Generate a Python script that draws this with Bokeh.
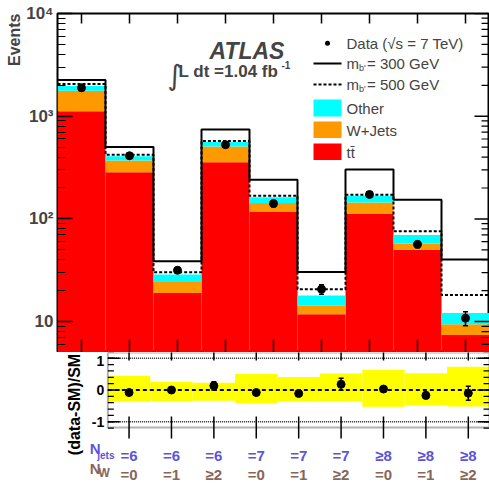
import numpy as np
from bokeh.plotting import figure
from bokeh.models import (Range1d, FixedTicker, Label, Title, BoxAnnotation, Whisker, TeeHead,
                          ColumnDataSource, Arrow)
from bokeh.core.properties import value
from bokeh.layouts import column
from bokeh.embed import file_html
from bokeh.resources import INLINE

# ---------------- data ----------------
njets_labels = ["=6", "=6", "=6", "=7", "=7", "=7", "\u22658", "\u22658", "\u22658"]
nw_labels = ["=0", "=1", "\u22652", "=0", "=1", "\u22652", "=0", "=1", "\u22652"]

ttbar = [1120, 284, 19.0, 356, 117, 11.8, 113, 50.0, 7.4]
wjets = [650, 86, 5.3, 152, 25.5, 2.5, 31.5, 7.3, 2.0]
other = [198, 38, 4.4, 52, 19.5, 3.6, 23.5, 12.4, 2.7]
total_mb300 = [2254, 500, 38.7, 741, 241, 30.4, 302, 153.5, 40.3]
total_mb500 = [2060, 421, 30.2, 573, 168, 20.7, 172, 75.7, 18.1]
data = [1890, 412, 31.6, 528, 141, 20.7, 173, 56.5, 10.8]
data_err = [40, 18, 2.0, 20, 10, 2.2, 11, 4.0, 1.7]

ratio = [-0.08, 0.0, 0.13, -0.08, -0.11, 0.18, 0.03, -0.17, -0.10]
ratio_err = [0.04, 0.05, 0.13, 0.04, 0.08, 0.19, 0.07, 0.10, 0.22]
band_up = [0.45, 0.26, 0.23, 0.50, 0.41, 0.52, 0.64, 0.53, 0.73]
band_dn = [-0.37, -0.35, -0.34, -0.42, -0.36, -0.36, -0.53, -0.48, -0.52]

ratio_ticks = [1, 0, -1]
ratio_tick_labels = ["1", "0", "-1"]

# ---------------- derived ----------------
nb = len(ttbar)
edges = list(range(nb + 1))
centers = [i + 0.5 for i in range(nb)]
s1 = list(ttbar)
s2 = [a + b for a, b in zip(s1, wjets)]
s3 = [a + b for a, b in zip(s2, other)]

FONT = "Liberation Sans"
RED, ORANGE, CYAN, YELLOW = "#ff0000", "#ff9900", "#00ffff", "#ffff00"
BLUE, BROWN = "#5a55d9", "#87665a"

W = 489
FL = 57                      # frame left of the main panel (page px)
BIN_PX = (W - FL) / nb       # pixels per bin
P2TOP = 352                  # page y where the ratio canvas starts
P2H = 131
Y1LO, Y1HI = 5, 1e4
Y2LO, Y2HI = -1.18, 1.18
R_PX = 75 / (Y2HI - Y2LO)    # ratio panel px per unit

def xv(px):                  # page x -> data x
    return (px - FL) / BIN_PX

def yv(py):                  # page y -> ratio-panel data y
    return Y2HI - (py - P2TOP) / R_PX

major_log = [10, 100, 1000, 10000]
minor_log = [m * 10 ** e for e in range(0, 4) for m in range(2, 10) if m * 10 ** e >= Y1LO]

def ticks_x(p, yedge, size):
    p.scatter(x=centers, y=[yedge] * nb, marker="dash", angle=np.pi / 2, size=size,
              line_color="black", line_width=1.5)

def ticks_y(p, xedge, vals, size, lw=1.5):
    p.scatter(x=[xedge] * len(vals), y=vals, marker="dash", size=size,
              line_color="black", line_width=lw)

# ---------------- main panel ----------------
xr = Range1d(0, nb)
p1 = figure(width=W, height=P2TOP, x_range=xr, y_range=Range1d(Y1LO, Y1HI), y_axis_type="log",
            x_axis_location=None, output_backend="svg", toolbar_location=None,
            min_border_left=FL, min_border_right=0, min_border_top=13, min_border_bottom=0)
p1.grid.visible = False
p1.outline_line_color = "black"
p1.outline_line_width = 2

p1.vbar(x=centers, width=1, bottom=1, top=s1, fill_color=RED, line_color=None)
p1.vbar(x=centers, width=1, bottom=s1, top=s2, fill_color=ORANGE, line_color=None)
p1.vbar(x=centers, width=1, bottom=s2, top=s3, fill_color=CYAN, line_color=None)

p1.step(x=edges, y=total_mb500 + [total_mb500[-1]], mode="after",
        line_color="black", line_width=2, line_dash="3 2")
p1.step(x=edges, y=total_mb300 + [total_mb300[-1]], mode="after",
        line_color="black", line_width=2)

src1 = ColumnDataSource(dict(x=centers, y=data,
                             lo=[d - e for d, e in zip(data, data_err)],
                             hi=[d + e for d, e in zip(data, data_err)]))
p1.scatter(x="x", y="y", source=src1, size=8, color="black")
p1.add_layout(Whisker(base="x", lower="lo", upper="hi", source=src1, line_width=1.5,
                      level="annotation",
                      upper_head=TeeHead(size=5, line_width=1.5),
                      lower_head=TeeHead(size=5, line_width=1.5)))

ticks_x(p1, Y1LO, 26)
ticks_x(p1, Y1HI, 20)
ticks_y(p1, nb, major_log, 30)
ticks_y(p1, nb, minor_log, 16, 1.2)

yax = p1.yaxis[0]
yax.ticker = FixedTicker(ticks=major_log, minor_ticks=minor_log)
yax.major_label_overrides = {10: "10", 100: "10\u00b2", 1000: "10\u00b3", 10000: "10\u2074"}
yax.major_label_text_font = FONT
yax.major_label_text_font_style = "bold"
yax.major_label_text_font_size = "17px"
yax.major_label_standoff = 4
yax.major_tick_in = 15
yax.major_tick_out = 0
yax.minor_tick_in = 8
yax.minor_tick_out = 0
yax.axis_line_color = None
yax.major_tick_line_width = 1.5
yax.minor_tick_line_width = 1.2

p1.add_layout(Title(text="Events", align="right", text_font=FONT, text_font_style="bold",
                    text_font_size="16px", standoff=1, offset=0), "left")

def lab(txt, x, y, size, style="normal", font=FONT):
    p1.add_layout(Label(x=x, y=y, x_units="canvas", y_units="canvas", text=txt,
                        text_align="left", text_baseline="middle",
                        text_font=font, text_font_style=style, text_font_size=size))

lab("ATLAS", 209, 50, "23px", "bold italic")
lab("\u222b", 167, 75, "28px", font="DejaVu Sans")
lab("L dt =1.04 fb", 178, 70.5, "17px", "bold")
lab("-1", 281, 64, "10px", "bold")

# legend
LX0, LX1, TX = 313, 341, 346

def leg_box(color, ytop, ybot, x0=LX0, x1=LX1, radius=0):
    p1.add_layout(BoxAnnotation(left=x0, right=x1, top=ytop, bottom=ybot,
                                left_units="canvas", right_units="canvas",
                                top_units="canvas", bottom_units="canvas",
                                fill_color=color, fill_alpha=1, line_color=None,
                                border_radius=radius, level="overlay"))

def leg_line(y, dash="solid"):
    p1.add_layout(Arrow(end=None, x_start=LX0, y_start=y, x_end=LX1, y_end=y,
                        start_units="canvas", end_units="canvas", line_width=2,
                        line_color="black", line_dash=dash))

leg_box("black", 40.2, 45.2, 324.5, 329.5, 3)
lab("Data (\u221as = 7 TeV)", TX, 42.7, "15px")
leg_line(63)
leg_line(84, "3 2")
for yc, mass in ((63, "300"), (84, "500")):
    lab("m", TX, yc, "15px")
    lab("b'", 358.5, yc + 4, "9px")
    lab("= " + mass + " GeV", 366.5, yc, "15px")
leg_box(CYAN, 99, 116)
lab("Other", TX, 108, "15px")
leg_box(ORANGE, 121, 137.5)
lab("W+Jets", TX, 130, "15px")
leg_box(RED, 143, 159.5)
lab("tt\u0304", TX, 151.5, "15px")

# ---------------- ratio panel (frame covers the whole canvas) ----------------
p2 = figure(width=W, height=P2H, x_range=Range1d(xv(0), nb),
            y_range=Range1d(yv(P2TOP + P2H), Y2HI),
            x_axis_location=None, y_axis_location=None,
            output_backend="svg", toolbar_location=None,
            min_border_left=0, min_border_right=0, min_border_top=0, min_border_bottom=0)
p2.grid.visible = False
p2.outline_line_color = None

p2.quad(left=edges[:-1], right=edges[1:], bottom=band_dn, top=band_up,
        fill_color=YELLOW, line_color=None)
for loc in (1, -1):
    p2.segment(x0=0, y0=loc, x1=nb, y1=loc, line_color="#222222", line_width=1.5,
               line_dash="1 1")
p2.segment(x0=0, y0=0, x1=nb, y1=0, line_color="black", line_width=2, line_dash="4 3")

src2 = ColumnDataSource(dict(x=centers, y=ratio,
                             lo=[r - e for r, e in zip(ratio, ratio_err)],
                             hi=[r + e for r, e in zip(ratio, ratio_err)]))
p2.scatter(x="x", y="y", source=src2, size=8, color="black")
p2.add_layout(Whisker(base="x", lower="lo", upper="hi", source=src2, line_width=1.5,
                      level="annotation",
                      upper_head=TeeHead(size=5, line_width=1.5),
                      lower_head=TeeHead(size=5, line_width=1.5)))

# panel box and ticks
p2.add_layout(BoxAnnotation(left=0, right=nb, top=Y2HI, bottom=Y2LO, fill_alpha=0,
                            line_color="black", line_width=2))
ry_minor = [round(-1.2 + 0.2 * i, 1) for i in range(13)]
p2.ray(x=[0] * len(ratio_ticks), y=ratio_ticks, length=12, length_units="screen", angle=0,
       line_color="black", line_width=1.5)
p2.ray(x=[0] * len(ry_minor), y=ry_minor, length=6, length_units="screen", angle=0,
       line_color="black", line_width=1.2)
ticks_y(p2, nb, ratio_ticks, 24)
ticks_y(p2, nb, ry_minor, 12, 1.2)
ticks_x(p2, Y2HI, 16)
ticks_x(p2, Y2LO, 22)

# texts of the ratio panel
p2.text(x=[xv(53)] * 3, y=ratio_ticks, text=ratio_tick_labels, y_offset=[3, 0, 0],
        text_align="right", text_baseline="middle", text_font=value(FONT),
        text_font_style="bold", text_font_size="14px", text_color="black")
p2.text(x=[xv(19.5)], y=[yv(404)], text=["(data-SM)/SM"], angle=np.pi / 2,
        text_align="center", text_baseline="middle", text_font=value(FONT),
        text_font_style="bold", text_font_size="16px", text_color="black")
p2.text(x=centers, y=[yv(455)] * nb, text=njets_labels, text_align="center",
        text_baseline="middle", text_font=value(FONT), text_font_style="bold",
        text_font_size="15px", text_color=BLUE)
p2.text(x=centers, y=[yv(474)] * nb, text=nw_labels, text_align="center",
        text_baseline="middle", text_font=value(FONT), text_font_style="bold",
        text_font_size="15px", text_color=BROWN)

def lab2(txt, x, y, size, color):
    p2.text(x=[xv(x)], y=[yv(y)], text=[txt], text_align="left", text_baseline="middle",
            text_font=value(FONT), text_font_style="bold", text_font_size=size,
            text_color=color)

lab2("N", 36.5, 447.5, "15px", BLUE)
lab2("jets", 45, 454.5, "10px", BLUE)
lab2("N", 36.5, 467.5, "15px", BROWN)
lab2("W", 46.5, 472.5, "12px", BROWN)

layout = column(p1, p2, spacing=0)
open("out.html", "w").write(file_html(layout, INLINE))
